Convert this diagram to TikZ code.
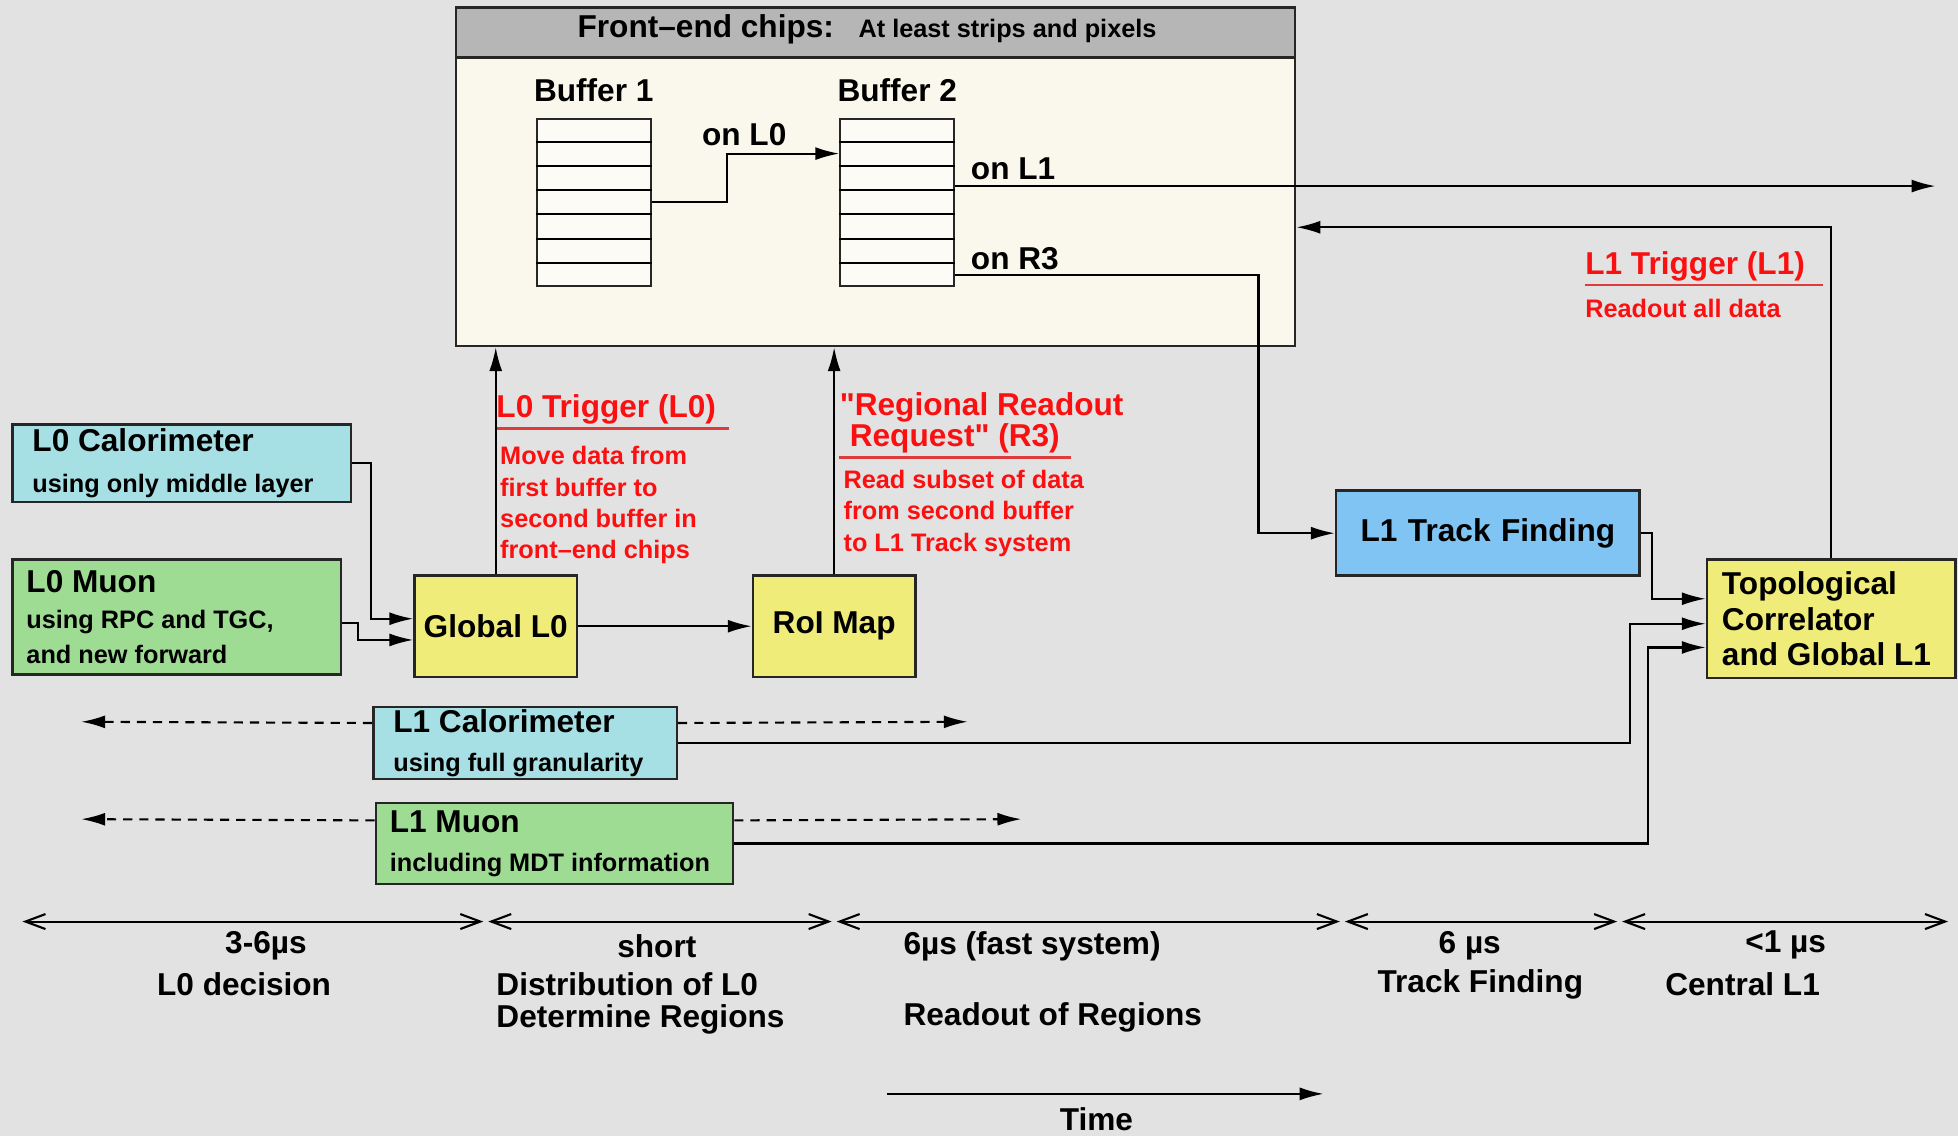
\documentclass[tikz,border=0pt]{standalone}
\usepackage{fontspec}
\setmainfont{Liberation Sans}
\usetikzlibrary{arrows.meta, positioning, calc}

\definecolor{bgray}{RGB}{226,226,226}
\definecolor{chipcream}{RGB}{250,248,236}
\definecolor{chiphead}{RGB}{182,182,182}
\definecolor{calocyan}{RGB}{166,224,228}
\definecolor{muongreen}{RGB}{158,220,148}
\definecolor{trigyellow}{RGB}{240,236,122}
\definecolor{trackblue}{RGB}{128,196,244}
\definecolor{trigred}{RGB}{250,16,16}
\definecolor{linered}{RGB}{222,60,60}

\newcommand{\bigf}{\fontsize{9}{10}\selectfont}
\newcommand{\smallf}{\fontsize{7.2}{9.3}\selectfont}

\begin{document}
\begin{tikzpicture}[x=0.0125cm, y=-0.0125cm, font=\bfseries\bigf,
  natural/.style={execute at begin node={\spaceskip=0pt\xspaceskip=0pt\relax}},
  box/.style={draw=black!85, line width=0.7pt, anchor=north west, inner sep=0pt},
  blk/.style={box, natural, align=left, inner ysep=0pt},
  buffer/.style={draw=black!85, line width=0.6pt, fill=white!50!chipcream,
    minimum width=1.1375cm, minimum height=1.675cm, inner sep=0pt},
  lbl/.style={inner sep=0pt, natural},
  redhead/.style={lbl, text=trigred, font=\bfseries\fontsize{9}{8.9}\selectfont, align=left},
  redbody/.style={lbl, text=trigred, font=\bfseries\fontsize{7.2}{8.9}\selectfont, align=left},
  uline/.style={linered, line width=0.8pt},
  flow/.style={-{Latex[length=2.4mm,width=1.3mm]}, line width=0.6pt},
  dflow/.style={flow, dash pattern=on 2.6pt off 2pt},
  span/.style={{Straight Barb[length=2mm,width=1.5mm]}-{Straight Barb[length=2mm,width=1.5mm]}, line width=0.6pt}]

  \path[use as bounding box, fill=bgray] (0,0) rectangle (1568,910);

  % front-end chips with the two buffers
  \node[box, fill=chipcream, minimum width=8.4cm, minimum height=3.3875cm] (fe) at (364,5) {};
  \node[box, fill=chiphead, minimum width=8.4cm, minimum height=0.5cm] (fehead) at (fe.north west) {};
  \node[lbl, anchor=base west] (fetitle) at (462,30) {Front–end chips:};
  \node[lbl, anchor=base west, font=\bfseries\smallf] (fesub) at (687,30) {At least strips and pixels};

  \node[buffer] (buf1) at (475.5,162) {};
  \node[buffer] (buf2) at (718.5,162) {};
  \foreach \b in {buf1,buf2}
    \foreach \k in {1,...,6}
      \draw[line width=0.6pt] ($(\b.north west)!\k/7!(\b.south west)$) -- ($(\b.north east)!\k/7!(\b.south east)$);
  \node[lbl, above=0.15cm of buf1] (buf1lbl) {Buffer 1};
  \node[lbl, above=0.15cm of buf2] (buf2lbl) {Buffer 2};

  \node[lbl] (onl0) at (596,108) {on L0};
  \node[lbl, anchor=west] (onl1) at (777,135) {on L1};
  \node[lbl, anchor=west] (onr3) at (777,207) {on R3};

  % L0 side
  \node[blk, fill=calocyan, text width=2.9875cm, inner xsep=0.2cm, minimum height=0.775cm] (l0calo) at (9,339)
    {L0 Calorimeter\\[1.5pt]\smallf using only middle layer};
  \node[blk, fill=muongreen, text width=3.0075cm, inner xsep=0.14cm, minimum height=1.15cm] (l0mu) at (9,447)
    {L0 Muon\\[1pt]\smallf using RPC and TGC,\\and new forward};
  \node[box, fill=trigyellow, minimum width=1.625cm, minimum height=1.0125cm] (gl0) at (331,460) {Global L0};
  \node[box, fill=trigyellow, minimum width=1.625cm, minimum height=1.0125cm] (roi) at (602,460) {RoI Map};

  % L1 side
  \node[box, fill=trackblue, align=center, text width=2.6375cm, inner xsep=0.2cm, minimum height=0.85cm] (trk) at (1069,392)
    {L1 Track Finding};
  \node[blk, fill=trigyellow, text width=2.1875cm, inner xsep=0.15cm, minimum height=1.1875cm] (topo) at (1366,447)
    {Topological\\Correlator\\and Global L1};
  \node[blk, fill=calocyan, text width=2.6375cm, inner xsep=0.2cm, minimum height=0.725cm] (l1calo) at (298,565)
    {L1 Calorimeter\\[1pt]\smallf using full granularity};
  \node[blk, fill=muongreen, text width=3.295cm, inner xsep=0.14cm, minimum height=0.8125cm] (l1mu) at (300,642)
    {L1 Muon\\[1pt]\smallf including MDT information};

  % trigger notes
  \node[redhead, anchor=west] (l0trig) at (397,328) {L0 Trigger (L0)};
  \draw[uline] ([yshift=-1pt]l0trig.south west) -- ++(187,0);
  \node[redbody, anchor=north west] (l0txt) at (400,357)
    {Move data from\\first buffer to\\second buffer in\\front–end chips};
  \node[redhead, anchor=north west] (r3trig) at (672,314)
    {\textquotedbl Regional Readout\\\hspace*{0.1cm}Request\textquotedbl\ (R3)};
  \draw[uline] ([yshift=-1pt]r3trig.south west) -- ++(186,0);
  \node[redbody, anchor=north west] (r3txt) at (675,376)
    {Read subset of data\\from second buffer\\to L1 Track system};
  \node[redhead, anchor=west] (l1trig) at (1269,213) {L1 Trigger (L1)};
  \draw[uline] ([yshift=-1pt]l1trig.south west) -- ++(191,0);
  \node[redbody, anchor=west] (l1txt) at (1269,247) {Readout all data};

  % connections
  \draw[flow] (buf1.east) -- ++(60,0) |- ($(buf2.west)+(0,-39)$);
  \coordinate (l1out) at (1550,149);
  \draw[flow] ($(buf2.east)+(0,-13)$) -- (l1out);
  \draw[flow] ($(buf2.east)+(0,58)$) -- ++(243,0) |- (trk.west);
  \draw[flow] (topo.north) |- ($(fe.north east)+(0,177)$);
  \draw[flow] (l0calo.east) -- ++(15,0) |- ($(gl0.west)+(0,-6)$);
  \draw[flow] ($(l0mu.east)+(0,5)$) -- ++(13,0) |- ($(gl0.west)+(0,11)$);
  \draw[flow] (gl0) -- (roi);
  \draw[flow] (gl0.north) -- (gl0.north |- fe.south);
  \draw[flow] (roi.north) -- (roi.north |- fe.south);
  \draw[flow] (trk.east) -- ++(9,0) |- ($(topo.west)+(0,-16)$);
  \draw[flow] (l1calo.east) -- ++(762,0) |- ($(topo.west)+(0,4)$);
  \draw[flow] (l1mu.east) -- ++(732,0) |- ($(topo.west)+(0,23)$);

  \coordinate (calol) at (65,578);
  \coordinate (calor) at (775,578);
  \coordinate (mul) at (65,656);
  \coordinate (mur) at (818,656);
  \draw[dflow] ($(l1calo.west)+(0,-16)$) -- (calol);
  \draw[dflow] ($(l1calo.east)+(0,-16)$) -- (calor);
  \draw[dflow] ($(l1mu.west)+(0,-18.5)$) -- (mul);
  \draw[dflow] ($(l1mu.east)+(0,-18.5)$) -- (mur);

  % time line
  \foreach \a/\b in {18/387, 391/666, 670/1073, 1077/1295, 1299/1560}
    \draw[span] (\a,738) -- (\b,738);

  \node[lbl] (t1a) at (213,757) {3-6µs};
  \node[lbl] (t1b) at (195.5,788) {L0 decision};
  \node[lbl] (t2a) at (526,758) {short};
  \node[lbl, anchor=west] (t2b) at (397,788) {Distribution of L0};
  \node[lbl, anchor=west] (t2c) at (397,816) {Determine Regions};
  \node[lbl, anchor=west] (t3a) at (723,758) {6µs (fast system)};
  \node[lbl, anchor=west] (t3b) at (723,815) {Readout of Regions};
  \node[lbl] (t4a) at (1177,757) {6 µs};
  \node[lbl] (t4b) at (1185.5,788) {Track Finding};
  \node[lbl] (t5a) at (1430,757) {<1 µs};
  \node[lbl] (t5b) at (1395.5,788) {Central L1};

  \coordinate (tfrom) at (710,876);
  \coordinate (tto) at (1060,876);
  \draw[flow] (tfrom) -- (tto);
  \node[lbl] (tlbl) at (878,896) {Time};
\end{tikzpicture}
\end{document}
